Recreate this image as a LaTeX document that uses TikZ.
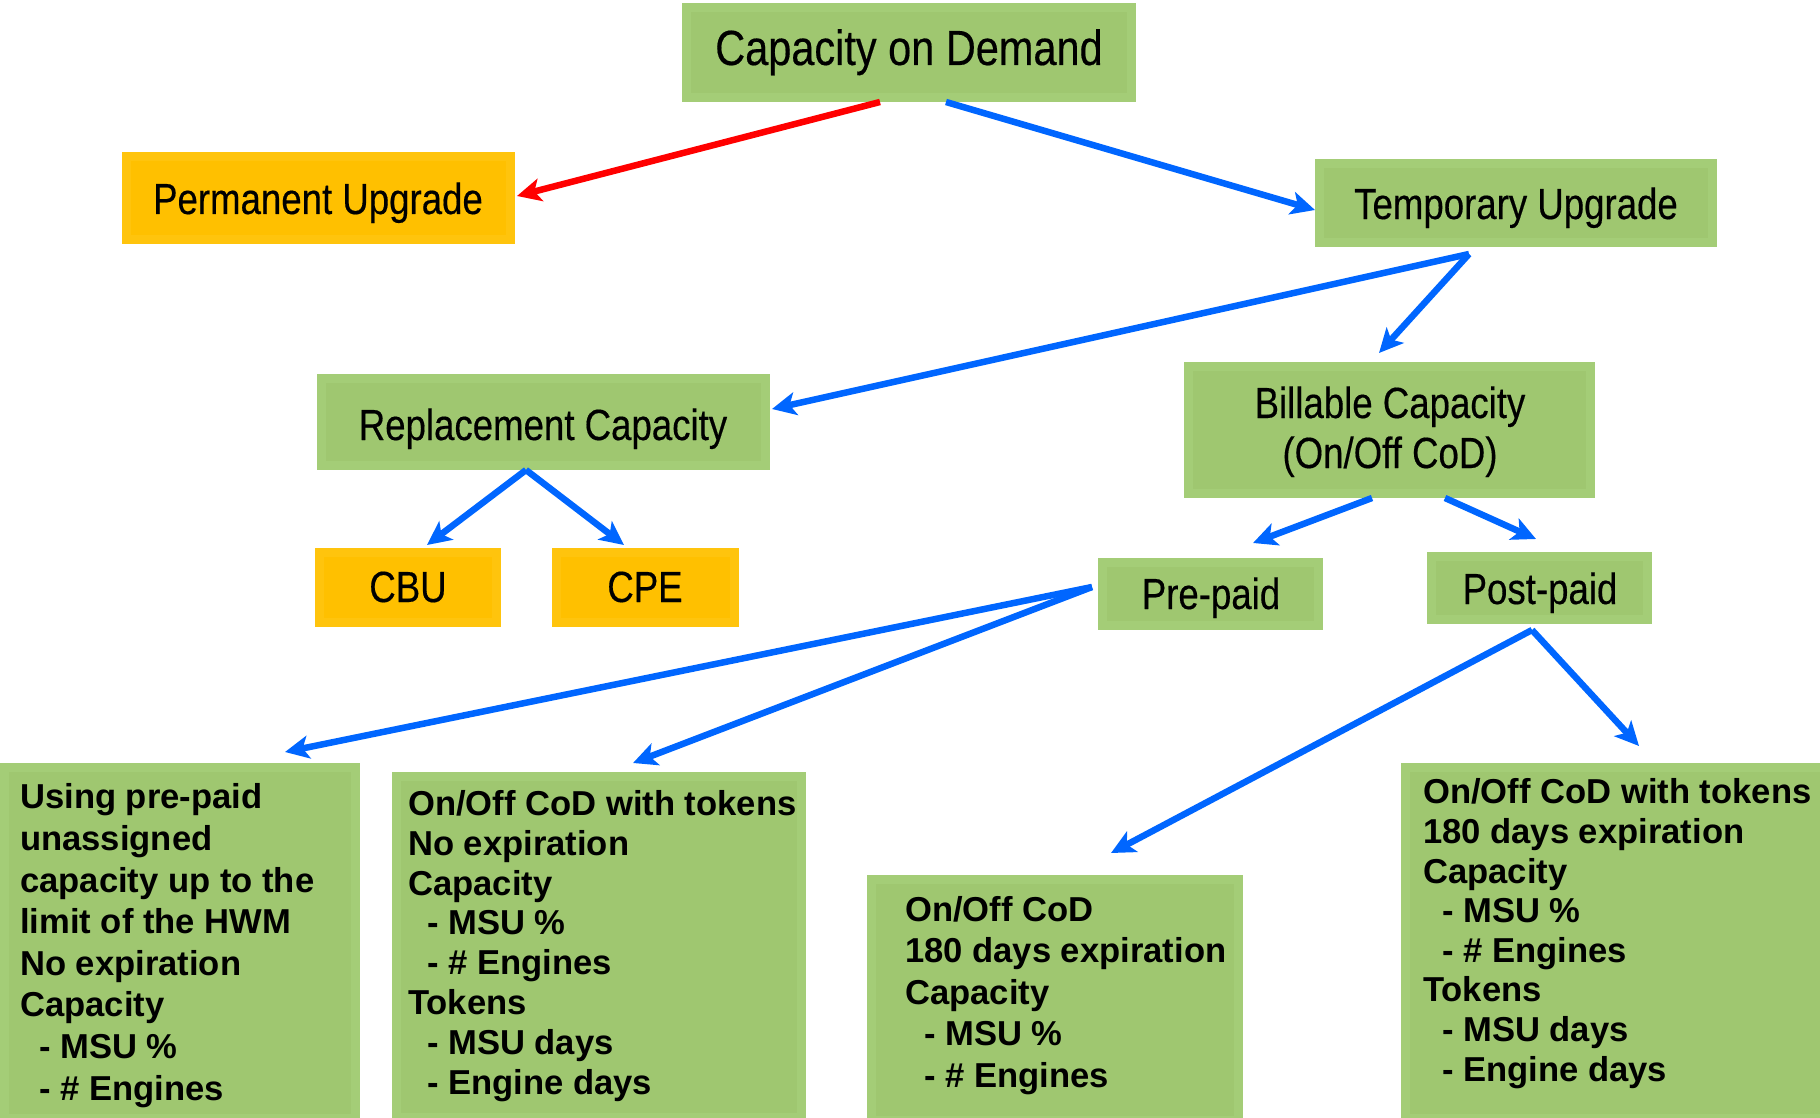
\documentclass[tikz,border=0pt]{standalone}
\usepackage{fontspec}
\setmainfont{Liberation Sans}
\newfontfamily\narrowfont[FakeStretch=0.84,FakeBold=0.35]{Liberation Sans}
\usetikzlibrary{arrows.meta,calc}

\definecolor{tileGreen}{HTML}{9FC770}
\definecolor{tileGreenEdge}{HTML}{A4CD77}
\definecolor{tileOrange}{HTML}{FFC000}
\definecolor{tileOrangeEdge}{HTML}{FFC40D}
\definecolor{linkBlue}{HTML}{0066FF}
\definecolor{linkRed}{HTML}{FF0000}

\begin{document}
\begin{tikzpicture}[x=1pt,y=-1pt,
  bevel/.style={path picture={\fill[#1]
      ([shift={(9pt,-9pt)}]path picture bounding box.north west) rectangle
      ([shift={(-9pt,9pt)}]path picture bounding box.south east);}},
  greentile/.style={rectangle, inner sep=0pt, outer sep=0pt, anchor=north west,
      fill=tileGreenEdge, bevel=tileGreen},
  orangetile/.style={rectangle, inner sep=0pt, outer sep=0pt, anchor=north west,
      fill=tileOrangeEdge, bevel=tileOrange},
  toplabel/.style={inner sep=0pt, anchor=base, align=center,
      font=\narrowfont\fontsize{43.6}{50}\selectfont},
  headlabel/.style={inner sep=0pt, anchor=base,
      font=\narrowfont\fontsize{49.4}{56}\selectfont},
  listlabel/.style={inner sep=0pt, anchor=base west, align=left,
      font=\bfseries\fontsize{34.6}{#1}\selectfont},
  link/.style={draw=linkBlue, line width=6.5pt,
      -{Stealth[length=24pt,width=23pt,inset=6pt]}},
  redlink/.style={link, draw=linkRed},
]
\useasboundingbox (0,0) rectangle (1820,1118);

% ---- boxes ----
\node[greentile, minimum width=454pt, minimum height=99pt] (cod) at (682,3) {};
\node[orangetile, minimum width=393pt, minimum height=92pt] (perm) at (122,152) {};
\node[greentile, minimum width=402pt, minimum height=88pt] (temp) at (1315,159) {};
\node[greentile, minimum width=453pt, minimum height=96pt] (repl) at (317,374) {};
\node[greentile, minimum width=411pt, minimum height=136pt] (bill) at (1184,362) {};
\node[orangetile, minimum width=186pt, minimum height=79pt] (cbu) at (315,548) {};
\node[orangetile, minimum width=187pt, minimum height=79pt] (cpe) at (552,548) {};
\node[greentile, minimum width=225pt, minimum height=72pt] (pre) at (1098,558) {};
\node[greentile, minimum width=225pt, minimum height=72pt] (post) at (1427,552) {};
\node[greentile, minimum width=360pt, minimum height=360pt] (using) at (0,763) {};
\node[greentile, minimum width=414pt, minimum height=350pt] (tokpre) at (392,772) {};
\node[greentile, minimum width=376pt, minimum height=250pt] (onoff) at (867,875) {};
\node[greentile, minimum width=430pt, minimum height=360pt] (tokpost) at (1401,763) {};

% ---- box titles (base anchor = baseline of the last line) ----
\node[headlabel] (codtxt) at (909,65) {Capacity on Demand};
\node[toplabel] (permtxt) at (318,214) {Permanent Upgrade};
\node[toplabel] (temptxt) at (1516,219) {Temporary Upgrade};
\node[toplabel] (repltxt) at (543,440) {Replacement Capacity};
\node[toplabel] (billtxt) at (1390,468) {Billable Capacity\\(On/Off CoD)};
\node[toplabel] (cbutxt) at (408,602) {CBU};
\node[toplabel] (cpetxt) at (645,602) {CPE};
\node[toplabel] (pretxt) at (1211,609) {Pre-paid};
\node[toplabel] (posttxt) at (1540,604) {Post-paid};

% ---- lists ----
\node[listlabel=41.6] (usingtxt) at (20,1100) {Using pre-paid\\unassigned\\capacity up to the\\limit of the HWM\\No expiration\\Capacity\\\hspace*{19pt}- MSU \%\\\hspace*{19pt}- \# Engines};
\node[listlabel=39.8] (tokpretxt) at (408,1094) {On/Off CoD with tokens\\No expiration\\Capacity\\\hspace*{19pt}- MSU \%\\\hspace*{19pt}- \# Engines\\Tokens\\\hspace*{19pt}- MSU days\\\hspace*{19pt}- Engine days};
\node[listlabel=41.5] (onofftxt) at (905,1087) {On/Off CoD\\180 days expiration\\Capacity\\\hspace*{19pt}- MSU \%\\\hspace*{19pt}- \# Engines};
\node[listlabel=39.6] (tokposttxt) at (1423,1081) {On/Off CoD with tokens\\180 days expiration\\Capacity\\\hspace*{19pt}- MSU \%\\\hspace*{19pt}- \# Engines\\Tokens\\\hspace*{19pt}- MSU days\\\hspace*{19pt}- Engine days};

% ---- connectors ----
\draw[redlink] ([xshift=198pt]cod.south west) -- ([shift={(2pt,2pt)}]perm.east);
\draw[link] ([xshift=264pt]cod.south west) -- ([yshift=-7pt]temp.west);
\draw[link] ([shift={(154pt,-7pt)}]temp.south west) -- ([shift={(2pt,13pt)}]repl.east);
\draw[link] ([shift={(154pt,-7pt)}]temp.south west) -- ([shift={(195pt,9pt)}]bill.north west);
\draw[link] ([xshift=209pt]repl.south west) -- ([shift={(112pt,3pt)}]cbu.north west);
\draw[link] ([xshift=209pt]repl.south west) -- ([shift={(72pt,3pt)}]cpe.north west);
\draw[link] ([xshift=188pt]bill.south west) -- ([shift={(155pt,15pt)}]pre.north west);
\draw[link] ([xshift=261pt]bill.south west) -- ([shift={(109pt,13pt)}]post.north west);
\draw[link] ([shift={(-6pt,7pt)}]pre.west) -- ([shift={(285pt,11pt)}]using.north west);
\draw[link] ([shift={(-6pt,7pt)}]pre.west) -- ([shift={(241pt,9pt)}]tokpre.north west);
\draw[link] ([shift={(105pt,-6pt)}]post.south west) -- ([shift={(244pt,22pt)}]onoff.north west);
\draw[link] ([shift={(105pt,-6pt)}]post.south west) -- ([shift={(238pt,17pt)}]tokpost.north west);
\end{tikzpicture}
\end{document}
